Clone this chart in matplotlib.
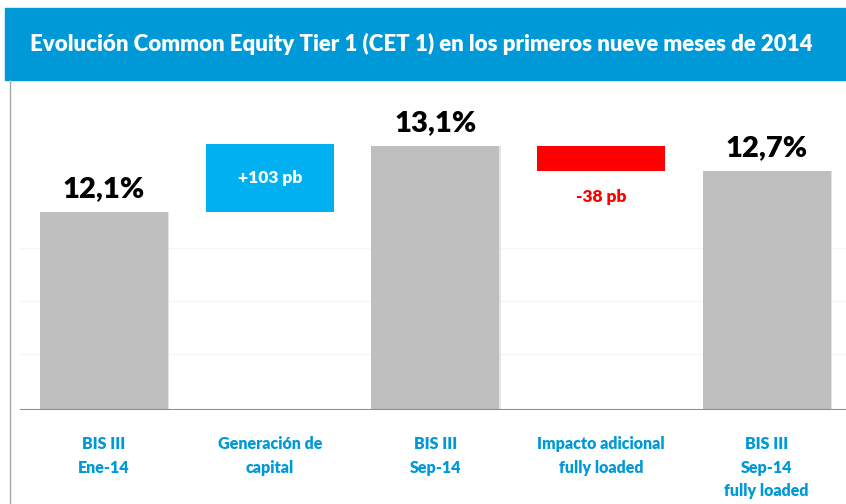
import matplotlib.pyplot as plt
from matplotlib.patches import Rectangle
import numpy as np

plt.rcParams['font.family'] = ['Lato', 'DejaVu Sans']

categories = ["BIS III\nEne-14", "Generación de\ncapital", "BIS III\nSep-14",
              "Impacto adicional\nfully loaded", "BIS III\nSep-14\nfully loaded"]
kinds = ["total", "delta", "total", "delta", "total"]
values = [12.1, 1.03, 13.1, -0.38, 12.72]
labels = ["12,1%", "+103 pb", "13,1%", "-38 pb", "12,7%"]

BASE = 9.1
BLUE = "#0099D8"
GREY = "#BFBFBF"
DELTA_UP = "#00B0F0"
DELTA_DOWN = "#FF0000"

fig = plt.figure(figsize=(8.46, 5.04), dpi=100)
W, H = 846, 504

# title band
fig.patches.append(Rectangle((5 / W, 1 - 80 / H), 1 - 5 / W, 72 / H,
                             transform=fig.transFigure, color=BLUE, zorder=0))
fig.text(30 / W, 1 - 44 / H,
         "Evolución Common Equity Tier 1 (CET 1) en los primeros nueve meses de 2014",
         color="white", fontsize=16, fontweight="heavy", va="center", ha="left")
# left frame line
fig.add_artist(plt.Line2D([9.5 / W, 9.5 / W], [0, 1 - 80 / H], transform=fig.transFigure,
                          color="#A6A6A6", lw=1))

ax = fig.add_axes([20 / W, 94 / H, 826 / W, 330 / H])
x = np.arange(len(categories))
ax.set_xlim(-0.508, 4.48)
ax.set_ylim(BASE, BASE + 5.0)

level = BASE
for i, (k, v, lab) in enumerate(zip(kinds, values, labels)):
    if k == "total":
        ax.bar(x[i] + 0.008, v - BASE, bottom=BASE, width=0.773, color="#E4E4E4",
               zorder=1)
        ax.bar(x[i], v - BASE, bottom=BASE, width=0.773, color=GREY, zorder=2)
        ax.text(x[i], v + 0.15, lab, ha="center", va="bottom", fontsize=21,
                fontweight="heavy", color="black")
        level = v
    elif v > 0:
        ax.bar(x[i], v, bottom=level, width=0.773, color=DELTA_UP, zorder=2)
        ax.text(x[i], level + v / 2, lab, ha="center", va="center",
                fontsize=12.5, fontweight="heavy", color="white")
        level += v
    else:
        ax.bar(x[i], v, bottom=level, width=0.773, color=DELTA_DOWN, zorder=2)
        ax.text(x[i], level + v - 0.4, lab, ha="center", va="center",
                fontsize=12.5, fontweight="heavy", color=DELTA_DOWN)
        level += v

for gy in [BASE + 0.85, BASE + 1.65, BASE + 2.45]:
    ax.axhline(gy, color="#F4F4F4", lw=0.8, zorder=0)
ax.axhline(BASE, color="#8C8C8C", lw=1.5, zorder=3)

ax.set_xticks(x)
ax.set_xticklabels(categories, color=BLUE, fontsize=11.5, fontweight="heavy",
                   linespacing=1.55, va="top")
ax.tick_params(axis="x", length=0, pad=19)
ax.set_yticks([])
for s in ax.spines.values():
    s.set_visible(False)

fig.savefig("out.png", dpi=100)
